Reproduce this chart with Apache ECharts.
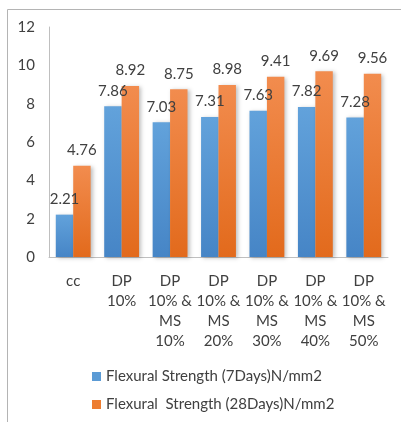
<!DOCTYPE html>
<html>
<head>
<meta charset="utf-8">
<script src="https://cdn.jsdelivr.net/npm/echarts@6/dist/echarts.min.js"></script>
<style>
  html, body { margin: 0; padding: 0; background: #fff; }
  #chart { width: 401px; height: 422px; }
</style>
</head>
<body>
<div id="chart"></div>
<script>
// Mix designations shown along the x axis
const categories = [
  'cc',
  'DP\n10%',
  'DP\n10% &\nMS\n10%',
  'DP\n10% &\nMS\n20%',
  'DP\n10% &\nMS\n30%',
  'DP\n10% &\nMS\n40%',
  'DP\n10% &\nMS\n50%'
];
const seriesNames = [
  'Flexural Strength (7Days)N/mm2',
  'Flexural  Strength (28Days)N/mm2'
];
const strength7 = [2.21, 7.86, 7.03, 7.31, 7.63, 7.82, 7.28];
const strength28 = [4.76, 8.92, 8.75, 8.98, 9.41, 9.69, 9.56];
const yTicks = { min: 0, max: 12, interval: 2 };

const FONT = 'Lato';
const FS = 15;
const TEXT = '#404040';

function grad(top, bottom) {
  return new echarts.graphic.LinearGradient(0, 0, 0, 1, [
    { offset: 0, color: top },
    { offset: 1, color: bottom }
  ]);
}

const chart = echarts.init(document.getElementById('chart'), null, { renderer: 'canvas' });
chart.setOption({
  animation: false,
  textStyle: { fontFamily: FONT },
  graphic: [{
    type: 'rect',
    shape: { x: 7.5, y: 9.5, width: 400, height: 420 },
    style: { fill: 'none', stroke: '#b4b4b4', lineWidth: 1 },
    silent: true
  }],
  grid: { left: 49, right: 13, top: 27, bottom: 165, containLabel: false },
  legend: {
    orient: 'vertical',
    left: 87,
    top: 364,
    itemWidth: 9,
    itemHeight: 9,
    itemGap: 13,
    icon: 'rect',
    textStyle: { fontFamily: FONT, fontSize: FS, color: TEXT },
    data: [
      { name: seriesNames[0], itemStyle: { color: '#5b9bd5' } },
      { name: seriesNames[1], itemStyle: { color: '#ed7d31' } }
    ]
  },
  xAxis: {
    type: 'category',
    data: categories,
    axisLine: { lineStyle: { color: '#bfbfbf' } },
    axisTick: { show: false },
    axisLabel: {
      interval: 0,
      margin: 14,
      fontFamily: FONT,
      fontSize: FS,
      color: TEXT,
      lineHeight: 20
    }
  },
  yAxis: {
    type: 'value',
    min: yTicks.min,
    max: yTicks.max,
    interval: yTicks.interval,
    splitLine: { show: false },
    axisLine: { show: true, lineStyle: { color: '#bfbfbf' } },
    axisTick: { show: false },
    axisLabel: { margin: 14, fontFamily: FONT, fontSize: FS, color: TEXT }
  },
  series: [
    {
      name: seriesNames[0],
      type: 'bar',
      data: strength7,
      barGap: '0%',
      barCategoryGap: '28%',
      itemStyle: {
        color: grad('#62a2db', '#4685c6'),
        shadowBlur: 4,
        shadowColor: 'rgba(0,0,0,0.25)',
        shadowOffsetX: 2,
        shadowOffsetY: 1
      },
      label: {
        show: true, position: 'top', distance: 8,
        fontFamily: FONT, fontSize: FS, color: TEXT
      }
    },
    {
      name: seriesNames[1],
      type: 'bar',
      data: strength28,
      barGap: '0%',
      barCategoryGap: '28%',
      itemStyle: {
        color: grad('#f28c4e', '#e26a1c'),
        shadowBlur: 4,
        shadowColor: 'rgba(0,0,0,0.25)',
        shadowOffsetX: 2,
        shadowOffsetY: 1
      },
      label: {
        show: true, position: 'top', distance: 8,
        fontFamily: FONT, fontSize: FS, color: TEXT
      }
    }
  ]
});
</script>
</body>
</html>
